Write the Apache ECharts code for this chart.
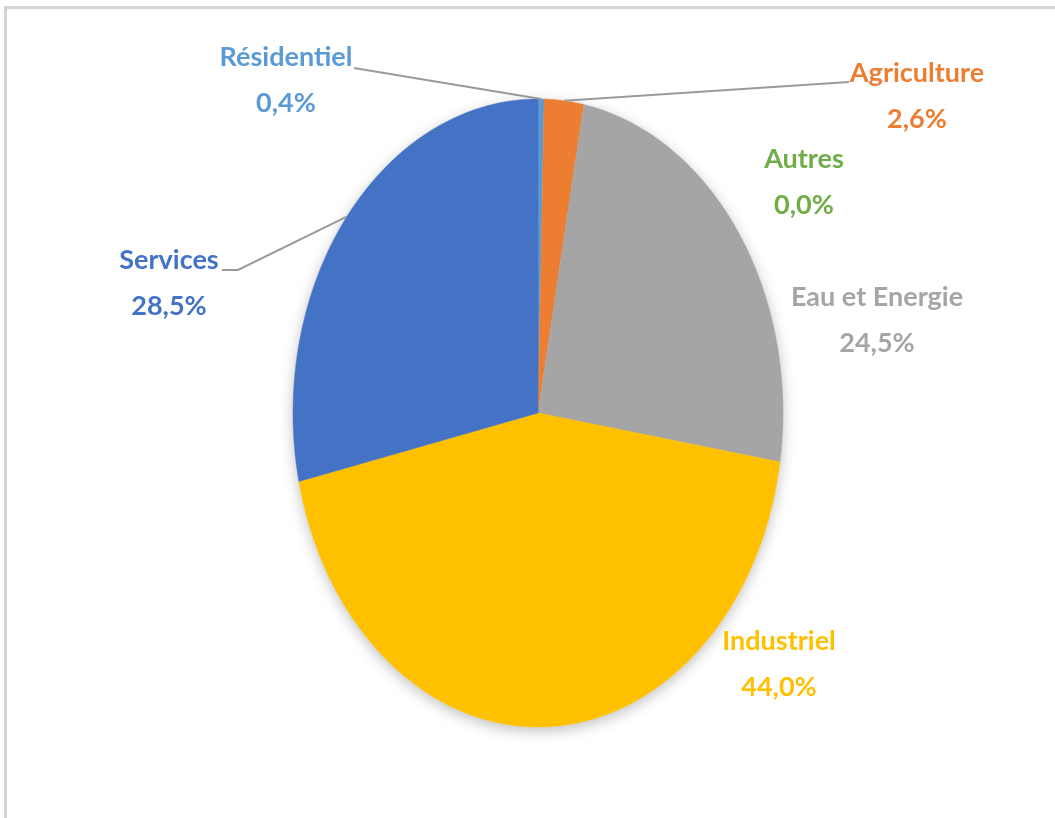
<!DOCTYPE html>
<html>
<head>
<meta charset="utf-8">
<script src="https://cdn.jsdelivr.net/npm/echarts@6/dist/echarts.min.js"></script>
<style>
  html, body { margin: 0; padding: 0; background: #ffffff; }
  #chart { width: 1055px; height: 818px; }
</style>
</head>
<body>
<div id="chart"></div>
<script>
// Sectors, clockwise from 12 o'clock
const categories = ['Résidentiel', 'Agriculture', 'Autres', 'Eau et Energie', 'Industriel', 'Services'];
const shares = [0.4, 2.6, 0.0, 24.5, 44.0, 28.5];
const colors = ['#5B9BD5', '#ED7D31', '#70AD47', '#A5A5A5', '#FFC000', '#4472C4'];

// Pie geometry (ellipse) and label placement
const pie = { cx: 538, cy: 413, rx: 245, ry: 314 };
const labelPos = [
  [286, 80], [917, 96], [804, 182], [877, 320], [779, 664], [169, 283]
];
// Leader lines: points on the label side; the last point is the sector edge
const leaderFrom = [
  [[354, 68]],
  [[849, 82]],
  null,
  null,
  null,
  [[222, 270], [238, 270]]
];

const total = shares.reduce((a, b) => a + b, 0);
const fmt = v => v.toFixed(1).replace('.', ',') + '%';

function edgePoint(angle) {
  return [pie.cx + pie.rx * Math.sin(angle), pie.cy - pie.ry * Math.cos(angle)];
}

function renderItem(params, api) {
  const i = params.dataIndex;
  const v = api.value(0);
  let before = 0;
  for (let k = 0; k < i; k++) before += shares[k];
  const a0 = before / total * Math.PI * 2;
  const a1 = (before + v) / total * Math.PI * 2;
  const children = [];
  if (v > 0) {
    const pts = [[pie.cx, pie.cy]];
    const steps = Math.max(2, Math.ceil((a1 - a0) / (Math.PI / 180)));
    for (let s = 0; s <= steps; s++) {
      pts.push(edgePoint(a0 + (a1 - a0) * s / steps));
    }
    children.push({
      type: 'polygon',
      shape: { points: pts },
      style: { fill: colors[i], stroke: colors[i], lineWidth: 0.5 }
    });
  }
  if (leaderFrom[i]) {
    const pts = leaderFrom[i].concat([edgePoint((a0 + a1) / 2)]);
    children.push({
      type: 'polyline',
      z2: 10,
      shape: { points: pts },
      style: { stroke: '#9a9a9a', lineWidth: 2, fill: null }
    });
  }
  children.push({
    type: 'text',
    z2: 11,
    style: {
      text: api.value(1) + '\n' + fmt(v),
      x: labelPos[i][0],
      y: labelPos[i][1],
      align: 'center',
      verticalAlign: 'middle',
      fill: colors[i],
      fontFamily: 'Lato, "Noto Sans", sans-serif',
      fontWeight: 'bold',
      fontSize: 27,
      lineHeight: 46
    }
  });
  return { type: 'group', children: children };
}

const chart = echarts.init(document.getElementById('chart'), null, { renderer: 'canvas' });
chart.setOption({
  animation: false,
  backgroundColor: '#ffffff',
  graphic: [
    {
      type: 'rect',
      z: 0,
      shape: { x: 5.5, y: 7.5, width: 1200, height: 900 },
      style: { fill: null, stroke: '#d4d4d4', lineWidth: 3 }
    },
    {
      type: 'ellipse',
      z: 1,
      shape: { cx: pie.cx, cy: pie.cy, rx: pie.rx, ry: pie.ry },
      style: {
        fill: '#ffffff',
        shadowBlur: 14,
        shadowOffsetY: 4,
        shadowColor: 'rgba(0,0,0,0.25)'
      }
    }
  ],
  series: [{
    type: 'custom',
    coordinateSystem: 'none',
    z: 5,
    silent: true,
    data: shares.map((v, i) => [v, categories[i]]),
    renderItem: renderItem
  }]
});
</script>
</body>
</html>
